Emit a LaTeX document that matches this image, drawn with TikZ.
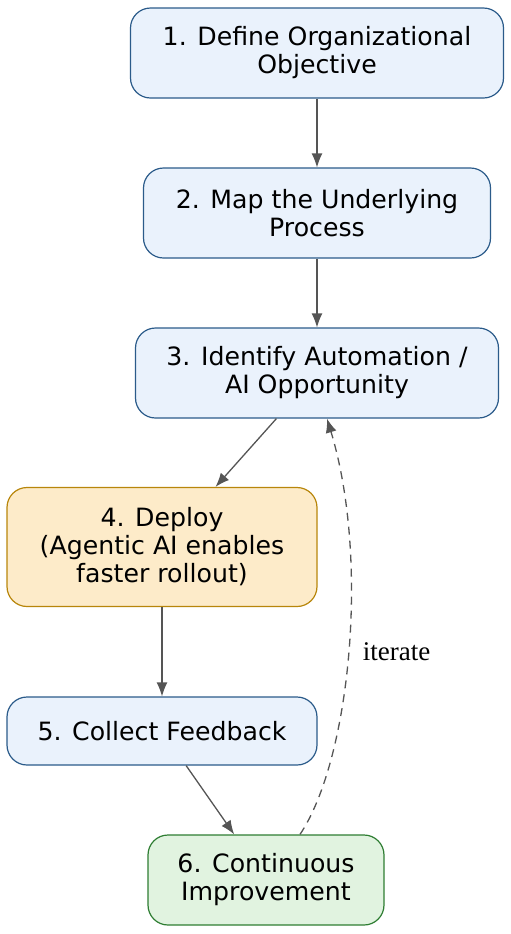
\documentclass[tikz,border=0pt]{standalone}
\usepackage{fontspec}
\usetikzlibrary{arrows.meta}
\newfontfamily\boxfont{DejaVu Sans}
\newfontfamily\labelfont{Liberation Serif}
\definecolor{stepline}{HTML}{2B5B8A}
\definecolor{stepfill}{HTML}{EAF2FC}
\definecolor{deployline}{HTML}{B8860B}
\definecolor{deployfill}{HTML}{FDEBC9}
\definecolor{improveline}{HTML}{2E7D32}
\definecolor{improvefill}{HTML}{E1F3E0}
\definecolor{edgegray}{HTML}{555555}

\begin{document}
\begin{tikzpicture}[
  x=0.5pt,y=-0.5pt,
  every node/.style={draw=stepline,fill=stepfill,line width=0.6pt,rounded corners=10pt,
    align=center,inner sep=0pt,font=\boxfont\fontsize{12.6}{14}\selectfont},
  deploy node/.append style={draw=deployline,fill=deployfill},
  improve node/.append style={draw=improveline,fill=improvefill},
  every edge/.style={draw=edgegray,line width=0.65pt},
  >={Latex[length=7pt,width=5.5pt]},
  ]
  \useasboundingbox (0,0) rectangle (510,934);
  \node[minimum width=186.5pt,minimum height=45pt](n1) at (317,53){1. Define Organizational\\Objective};
  \node[minimum width=173.5pt,minimum height=45pt](n2) at (317,213){2. Map the Underlying\\Process};
  \node[minimum width=181.5pt,minimum height=45pt](n3) at (317,373){3. Identify Automation /\\AI Opportunity};
  \node[deploy node,minimum width=155pt,minimum height=59.5pt](n4) at (162,547){4. Deploy\\(Agentic AI enables\\faster rollout)};
  \node[minimum width=155pt,minimum height=34pt](n5) at (162,731){5. Collect Feedback};
  \node[improve node,minimum width=118pt,minimum height=45pt](n6) at (266,880){6. Continuous\\Improvement};
  \path[->]
  (n1) edge (n2)
  (n2) edge (n3)
  (n3) edge (n4)
  (n4) edge (n5)
  (n5) edge (n6);
  % feedback loop
  \draw[->,draw=edgegray,line width=0.65pt,dash pattern=on 4pt off 3pt]
  ([xshift=17pt]n6.north) .. controls (350,760) and (370,560) .. ([xshift=5pt]n3.south)
  node[pos=0.5,draw=none,fill=none,anchor=west,xshift=7pt,font=\labelfont\fontsize{13.5}{15}\selectfont]{iterate};
\end{tikzpicture}
\end{document}
